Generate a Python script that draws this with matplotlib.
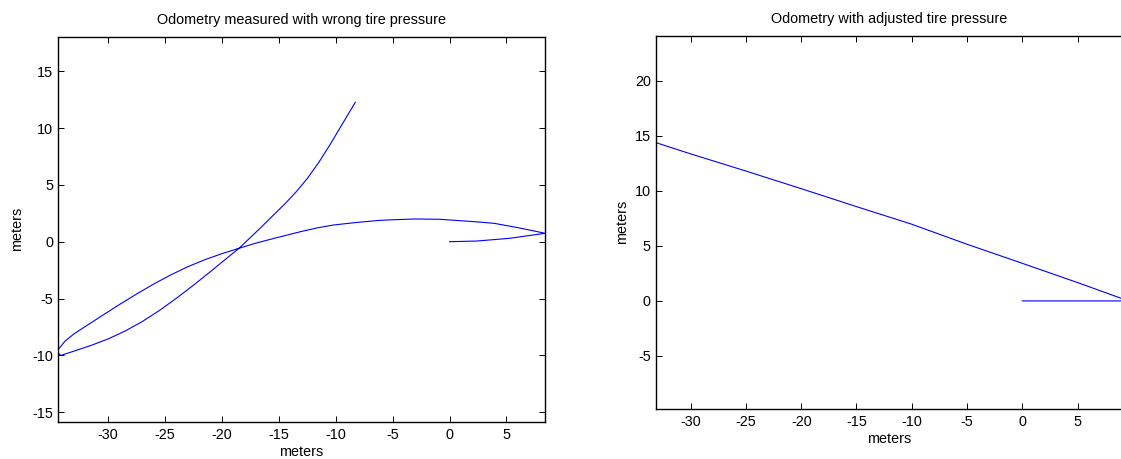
import matplotlib
matplotlib.use("Agg")
import matplotlib.pyplot as plt
from matplotlib.ticker import FixedLocator

plt.rcParams["font.family"] = ["Liberation Sans", "DejaVu Sans"]
FS = 10.4

# Trajectory recorded with wrong tire pressure (x, y in meters)
wrong_x = [0.0, 2.4, 5.3, 8.4, 6.1, 3.9, 2.2, 0.9, -0.8, -3.0, -5.0, -6.1,
           -8.1, -10.2, -11.6, -13.1, -15.4, -17.0, -18.5, -20.0, -21.5,
           -23.0, -24.5, -26.0, -27.5, -29.0, -30.5, -32.0, -33.0, -33.8,
           -34.4, -34.4, -34.15, -33.0, -31.5, -30.0, -28.5, -27.0, -25.5,
           -24.0, -22.5, -21.0, -19.5, -18.5, -17.5, -16.5, -15.5, -14.5,
           -13.5, -12.5, -11.5, -10.5, -9.5, -8.28]
wrong_y = [0.0, 0.06, 0.3, 0.74, 1.22, 1.62, 1.76, 1.85, 1.97, 2.0, 1.93, 1.88,
           1.7, 1.47, 1.22, 0.88, 0.30, -0.12, -0.58, -1.05, -1.58,
           -2.2, -2.92, -3.72, -4.6, -5.52, -6.48, -7.45, -8.1, -8.75,
           -9.5, -9.8, -10.0, -9.62, -9.12, -8.55, -7.85, -7.02, -6.05,
           -4.97, -3.82, -2.62, -1.39, -0.58, 0.37, 1.33, 2.32, 3.3,
           4.36, 5.56, 6.96, 8.54, 10.22, 12.26]

# Trajectory recorded after the tire pressure was adjusted
adj_x = [0.0, 9.0, 9.0, 5.0, 0.0, -5.0, -10.0, -15.0, -20.0, -25.0, -30.0, -33.17]
adj_y = [0.0, 0.0, 0.22, 1.67, 3.42, 5.15, 6.97, 8.57, 10.2, 11.8, 13.36, 14.39]

left_title = "Odometry measured with wrong tire pressure"
right_title = "Odometry with adjusted tire pressure"
axis_label = "meters"

left_xticks = [-30, -25, -20, -15, -10, -5, 0, 5]
left_yticks = [-15, -10, -5, 0, 5, 10, 15]
right_xticks = [-30, -25, -20, -15, -10, -5, 0, 5]
right_yticks = [-5, 0, 5, 10, 15, 20]

W, H = 1121, 459
fig = plt.figure(figsize=(W / 100, H / 100), dpi=100)


def px_axes(l, r, t, b):
    return fig.add_axes([l / W, (H - b) / H, (r - l) / W, (b - t) / H])


def style(ax, xt, yt, xlim, ylim, title, ylabelpad, xcenter=0.5):
    ax.set_xlim(*xlim)
    ax.set_ylim(*ylim)
    ax.xaxis.set_major_locator(FixedLocator(xt))
    ax.yaxis.set_major_locator(FixedLocator(yt))
    ax.set_xticklabels([str(v) for v in xt])
    ax.set_yticklabels([str(v) for v in yt])
    ax.tick_params(direction="in", top=True, right=True, length=4, width=0.7,
                   labelsize=FS, colors="black")
    ax.tick_params(axis="x", pad=4.5)
    ax.tick_params(axis="y", pad=3.5)
    for s in ax.spines.values():
        s.set_linewidth(1.0)
        s.set_color("black")
    t = ax.set_title(title, fontsize=FS, pad=9)
    t.set_x(xcenter)
    ax.set_xlabel(axis_label, fontsize=FS, labelpad=2)
    ax.xaxis.label.set_x(xcenter)
    ax.set_ylabel(axis_label, fontsize=FS, labelpad=ylabelpad)


ax1 = px_axes(58, 545, 36.7, 421.7)
ax1.plot(wrong_x, wrong_y, color="#0000ff", lw=0.8)
style(ax1, left_xticks, left_yticks, (-34.41, 8.39), (-15.83, 18.03),
      left_title, 6)

# the right panel runs past the canvas edge, hiding its right-hand frame
R_LEFT, R_RIGHT = 655.7, 1130.0
ax2 = px_axes(R_LEFT, R_RIGHT, 35.7, 409)
ax2.plot(adj_x, adj_y, color="#0000ff", lw=0.8)
style(ax2, right_xticks, right_yticks, (-33.17, 9.75), (-9.82, 24.1),
      right_title, 4, xcenter=(888.7 - R_LEFT) / (R_RIGHT - R_LEFT))

fig.savefig("out.png", dpi=100, facecolor="white")
